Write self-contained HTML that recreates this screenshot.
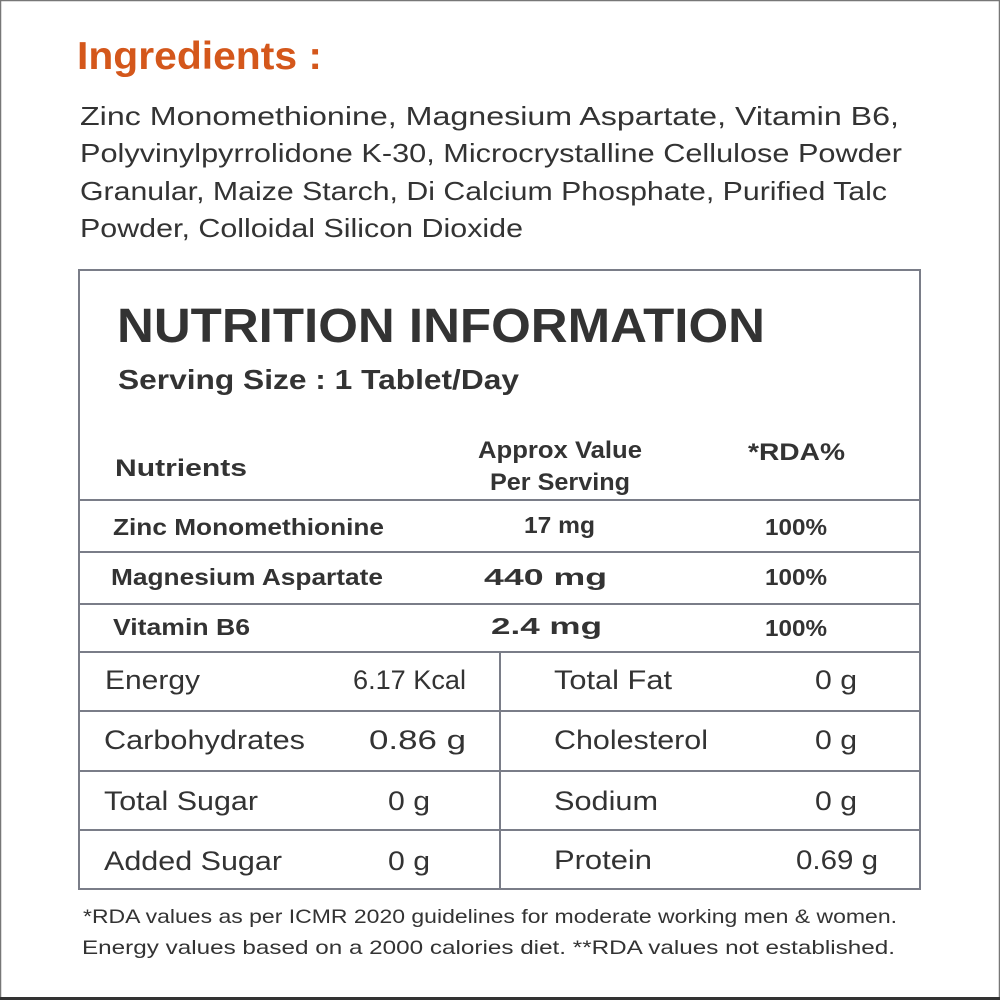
<!DOCTYPE html>
<html><head><meta charset="utf-8"><style>
html,body{margin:0;padding:0;background:#fff;}
svg{display:block;}
text{font-family:"Liberation Sans",sans-serif;fill:#333;}
</style></head><body>
<svg width="1000" height="1000" viewBox="0 0 1000 1000">
<rect x="0.5" y="0.5" width="999" height="998" fill="#fff" stroke="#777" stroke-width="1.5"/>
<line x1="0" y1="998.5" x2="1000" y2="998.5" stroke="#333" stroke-width="3"/>
<text x="77" y="69" font-size="39" font-weight="bold" style="fill:#d4571b" textLength="245" lengthAdjust="spacingAndGlyphs">Ingredients :</text>
<g font-size="26" style="fill:#3a3a3a">
<text x="80" y="125" textLength="819" lengthAdjust="spacingAndGlyphs">Zinc Monomethionine, Magnesium Aspartate, Vitamin B6,</text>
<text x="80" y="162" textLength="822" lengthAdjust="spacingAndGlyphs">Polyvinylpyrrolidone K-30, Microcrystalline Cellulose Powder</text>
<text x="80" y="200" textLength="807" lengthAdjust="spacingAndGlyphs">Granular, Maize Starch, Di Calcium Phosphate, Purified Talc</text>
<text x="80" y="237" textLength="443" lengthAdjust="spacingAndGlyphs">Powder, Colloidal Silicon Dioxide</text>
</g>
<g stroke="#7a7d88" stroke-width="2" fill="none">
<rect x="79" y="270" width="841" height="619"/>
<line x1="79" y1="500" x2="920" y2="500"/>
<line x1="79" y1="552" x2="920" y2="552"/>
<line x1="79" y1="604" x2="920" y2="604"/>
<line x1="79" y1="652" x2="920" y2="652"/>
<line x1="79" y1="711" x2="920" y2="711"/>
<line x1="79" y1="771" x2="920" y2="771"/>
<line x1="79" y1="830" x2="920" y2="830"/>
<line x1="500" y1="652" x2="500" y2="889"/>
</g>
<text x="117" y="342" font-size="48" font-weight="bold" textLength="648" lengthAdjust="spacingAndGlyphs">NUTRITION INFORMATION</text>
<text x="118" y="389" font-size="28" font-weight="bold" textLength="401" lengthAdjust="spacingAndGlyphs">Serving Size : 1 Tablet/Day</text>
<g font-size="24" font-weight="bold">
<text x="115" y="476" textLength="132" lengthAdjust="spacingAndGlyphs">Nutrients</text>
<text x="478" y="458" textLength="164" lengthAdjust="spacingAndGlyphs">Approx Value</text>
<text x="490" y="490" textLength="140" lengthAdjust="spacingAndGlyphs">Per Serving</text>
<text x="748" y="460" textLength="97" lengthAdjust="spacingAndGlyphs">*RDA%</text>
</g>
<g font-size="23" font-weight="bold">
<text x="113" y="535" textLength="271" lengthAdjust="spacingAndGlyphs">Zinc Monomethionine</text>
<text x="524" y="533" textLength="71" lengthAdjust="spacingAndGlyphs">17 mg</text>
<text x="765" y="535" textLength="62" lengthAdjust="spacingAndGlyphs">100%</text>
<text x="111" y="585" textLength="272" lengthAdjust="spacingAndGlyphs">Magnesium Aspartate</text>
<text x="484" y="585" textLength="123" lengthAdjust="spacingAndGlyphs">440 mg</text>
<text x="765" y="585" textLength="62" lengthAdjust="spacingAndGlyphs">100%</text>
<text x="113" y="635" textLength="137" lengthAdjust="spacingAndGlyphs">Vitamin B6</text>
<text x="491" y="634" textLength="111" lengthAdjust="spacingAndGlyphs">2.4 mg</text>
<text x="765" y="636" textLength="62" lengthAdjust="spacingAndGlyphs">100%</text>
</g>
<g font-size="27">
<text x="105" y="689" textLength="95" lengthAdjust="spacingAndGlyphs">Energy</text>
<text x="353" y="689" textLength="113" lengthAdjust="spacingAndGlyphs">6.17 Kcal</text>
<text x="554" y="689" textLength="118" lengthAdjust="spacingAndGlyphs">Total Fat</text>
<text x="815" y="689" textLength="42" lengthAdjust="spacingAndGlyphs">0 g</text>
<text x="104" y="749" textLength="201" lengthAdjust="spacingAndGlyphs">Carbohydrates</text>
<text x="369" y="749" textLength="97" lengthAdjust="spacingAndGlyphs">0.86 g</text>
<text x="554" y="749" textLength="154" lengthAdjust="spacingAndGlyphs">Cholesterol</text>
<text x="815" y="749" textLength="42" lengthAdjust="spacingAndGlyphs">0 g</text>
<text x="104" y="810" textLength="154" lengthAdjust="spacingAndGlyphs">Total Sugar</text>
<text x="388" y="810" textLength="42" lengthAdjust="spacingAndGlyphs">0 g</text>
<text x="554" y="810" textLength="104" lengthAdjust="spacingAndGlyphs">Sodium</text>
<text x="815" y="810" textLength="42" lengthAdjust="spacingAndGlyphs">0 g</text>
<text x="104" y="870" textLength="178" lengthAdjust="spacingAndGlyphs">Added Sugar</text>
<text x="388" y="870" textLength="42" lengthAdjust="spacingAndGlyphs">0 g</text>
<text x="554" y="869" textLength="98" lengthAdjust="spacingAndGlyphs">Protein</text>
<text x="796" y="869" textLength="82" lengthAdjust="spacingAndGlyphs">0.69 g</text>
</g>
<g font-size="19.5" style="fill:#444">
<text x="83" y="923" textLength="814" lengthAdjust="spacingAndGlyphs">*RDA values as per ICMR 2020 guidelines for moderate working men &amp; women.</text>
<text x="82" y="954" textLength="813" lengthAdjust="spacingAndGlyphs">Energy values based on a 2000 calories diet. **RDA values not established.</text>
</g>
</svg>
</body></html>
